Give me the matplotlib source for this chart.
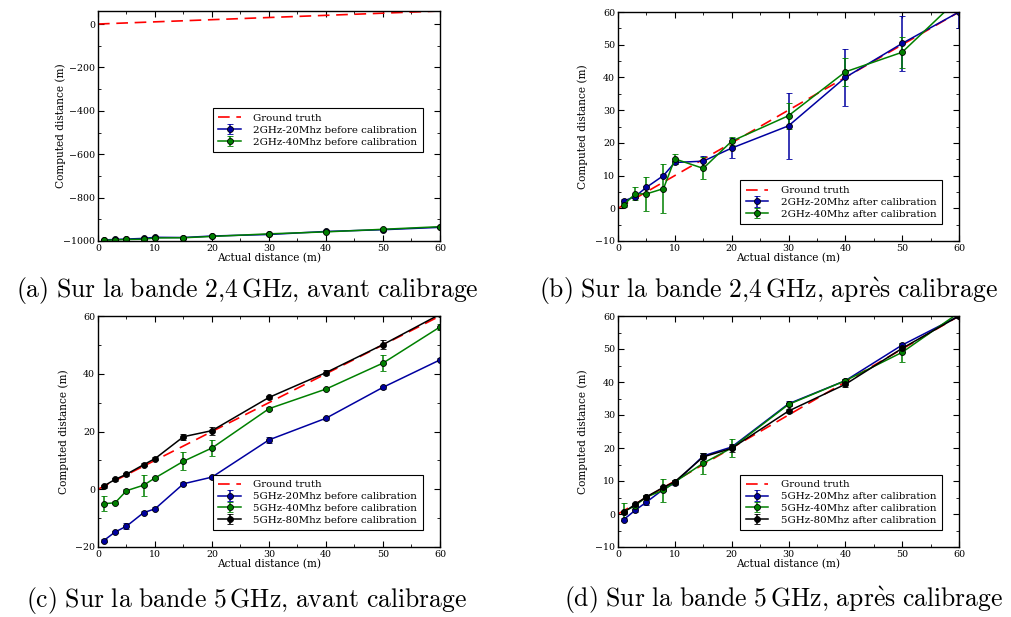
import numpy as np
import matplotlib
matplotlib.use("Agg")
import matplotlib.pyplot as plt
from matplotlib.ticker import MultipleLocator, AutoMinorLocator

plt.rcParams['font.family'] = ['DejaVu Serif']
plt.rcParams['font.size'] = 6.8
plt.rcParams['mathtext.fontset'] = 'cm'
plt.rcParams['xtick.direction'] = 'in'
plt.rcParams['ytick.direction'] = 'in'
plt.rcParams['xtick.top'] = True
plt.rcParams['ytick.right'] = True

dist = [1, 3, 5, 8, 10, 15, 20, 30, 40, 50, 60]
truth_x = [0, 60]

# (a) 2.4 GHz avant calibrage
a_20 = [-995, -993, -991, -988, -983, -984, -977, -970, -956, -948, -937]
a_20_err = [2, 2, 2, 2, 2, 2, 2, 2, 2, 2, 2]
a_40 = [-997, -995, -993, -992, -986, -985, -979, -967, -958, -946, -934]
a_40_err = [2, 2, 2, 2, 2, 2, 2, 2, 2, 2, 2]

# (b) 2.4 GHz apres calibrage
b_20 = [2.2, 3.6, 6.4, 10.0, 14.0, 14.4, 18.4, 25.2, 40.0, 50.4, 60.0]
b_20_err = [0.5, 0.5, 0.5, 0.5, 0.5, 1.7, 3.1, 10.0, 8.8, 8.5, 5.0]
b_40 = [1.0, 4.4, 4.4, 6.0, 15.1, 12.2, 20.5, 28.3, 41.7, 47.7, 64.2]
b_40_err = [0.5, 2.0, 5.3, 7.5, 1.6, 3.4, 1.3, 4.0, 4.2, 4.7, 1.0]

# (c) 5 GHz avant calibrage
c_20 = [-17.8, -14.8, -12.8, -8.1, -6.8, 1.9, 4.2, 17.1, 24.6, 35.3, 44.8]
c_20_err = [0.5, 0.5, 1.0, 0.5, 0.5, 0.5, 0.5, 1.0, 0.5, 0.5, 0.5]
c_40 = [-5.0, -4.7, -0.5, 1.4, 3.9, 9.7, 14.3, 27.9, 34.7, 43.7, 56.2]
c_40_err = [2.5, 0.5, 0.5, 3.6, 0.5, 3.2, 2.7, 0.5, 0.5, 2.8, 1.0]
c_80 = [1.1, 3.4, 5.2, 8.5, 10.6, 18.2, 20.3, 31.8, 40.4, 50.1, 60.6]
c_80_err = [0.5, 0.5, 0.5, 0.5, 0.5, 1.0, 1.4, 0.5, 1.0, 1.5, 0.5]

# (d) 5 GHz apres calibrage
d_20 = [-1.7, 1.1, 3.6, 7.5, 9.4, 17.6, 20.3, 33.4, 40.4, 51.2, 60.0]
d_20_err = [0.5, 0.5, 1.0, 0.5, 0.5, 0.8, 0.5, 0.8, 0.5, 0.5, 0.5]
d_40 = [0.7, 2.5, 5.2, 7.2, 9.7, 15.4, 20.0, 33.2, 40.4, 49.0, 61.0]
d_40_err = [2.5, 0.5, 0.5, 3.5, 0.5, 3.2, 2.7, 0.5, 0.5, 2.8, 0.5]
d_80 = [0.5, 2.9, 5.2, 8.1, 9.8, 17.3, 19.9, 31.2, 39.3, 50.2, 60.0]
d_80_err = [0.5, 0.5, 0.5, 0.5, 0.5, 1.2, 1.2, 0.5, 0.8, 1.0, 0.5]

captions = [r"$\mathrm{(a)\ Sur\ la\ bande\ 2{,}4\,GHz{,}\ avant\ calibrage}$",
            r"$\mathrm{(b)\ Sur\ la\ bande\ 2{,}4\,GHz{,}\ apr\grave{e}s\ calibrage}$",
            r"$\mathrm{(c)\ Sur\ la\ bande\ 5\,GHz{,}\ avant\ calibrage}$",
            r"$\mathrm{(d)\ Sur\ la\ bande\ 5\,GHz{,}\ apr\grave{e}s\ calibrage}$"]

W, H = 1012, 617
fig = plt.figure(figsize=(W / 100, H / 100), dpi=100)


def make_ax(left, top, right, bottom):
    return fig.add_axes([left / W, 1 - bottom / H, (right - left) / W, (bottom - top) / H])


def draw(ax, series, ylim, ymaj, legend_loc, legend_anchor, ylab_x):
    ax.plot(truth_x, truth_x, '--', color='red', lw=1.2, dashes=(7, 4), label='Ground truth')
    for y, err, col, lab in series:
        ax.errorbar(dist, y, yerr=err, fmt='-o', color=col, mfc=col, mec='black', mew=0.6,
                    ms=4.3, lw=1.1, elinewidth=1.1, capsize=2, capthick=1, label=lab)
    ax.set_xlim(0, 60)
    ax.set_ylim(*ylim)
    ax.xaxis.set_major_locator(MultipleLocator(10))
    ax.xaxis.set_minor_locator(AutoMinorLocator(2))
    ax.yaxis.set_major_locator(MultipleLocator(ymaj))
    ax.yaxis.set_minor_locator(AutoMinorLocator(2))
    ax.tick_params(which='major', length=4, width=0.8, pad=2)
    ax.tick_params(which='minor', length=2, width=0.6)
    for s in ax.spines.values():
        s.set_linewidth(1.0)
    ax.set_xlabel('Actual distance (m)', fontsize=7.6, labelpad=0)
    ax.set_ylabel('Computed distance (m)', fontsize=7.6)
    ax.yaxis.set_label_coords(ylab_x, 0.5)
    leg = ax.legend(loc=legend_loc, bbox_to_anchor=legend_anchor, fontsize=7.4, fancybox=False,
                    framealpha=1, edgecolor='black', handlelength=2.2, borderpad=0.55,
                    labelspacing=0.25, handletextpad=1.2)
    leg.get_frame().set_linewidth(0.8)


ax_a = make_ax(98, 11, 440, 241)
draw(ax_a, [(a_20, a_20_err, '#0000a0', '2GHz-20Mhz before calibration'),
            (a_40, a_40_err, 'green', '2GHz-40Mhz before calibration')],
     (-1000, 60), 200, 'upper right', (0.965, 0.6), -0.094)

ax_b = make_ax(618, 12, 959, 241)
draw(ax_b, [(b_20, b_20_err, '#0000a0', '2GHz-20Mhz after calibration'),
            (b_40, b_40_err, 'green', '2GHz-40Mhz after calibration')],
     (-10, 60), 10, 'lower right', (0.965, 0.05), -0.088)

ax_c = make_ax(98, 316, 440, 547)
draw(ax_c, [(c_20, c_20_err, '#0000a0', '5GHz-20Mhz before calibration'),
            (c_40, c_40_err, 'green', '5GHz-40Mhz before calibration'),
            (c_80, c_80_err, 'black', '5GHz-80Mhz before calibration')],
     (-20, 60), 20, 'lower right', (0.965, 0.05), -0.085)

ax_d = make_ax(618, 316, 959, 547)
draw(ax_d, [(d_20, d_20_err, '#0000a0', '5GHz-20Mhz after calibration'),
            (d_40, d_40_err, 'green', '5GHz-40Mhz after calibration'),
            (d_80, d_80_err, 'black', '5GHz-80Mhz after calibration')],
     (-10, 60), 10, 'lower right', (0.965, 0.05), -0.088)

cap_pos = [(247, 291), (769, 291), (247, 600), (784, 600)]
for (cx, cy), txt in zip(cap_pos, captions):
    fig.text(cx / W, 1 - cy / H, txt, ha='center', va='center', fontsize=18.5)

fig.savefig('out.png', dpi=100)
